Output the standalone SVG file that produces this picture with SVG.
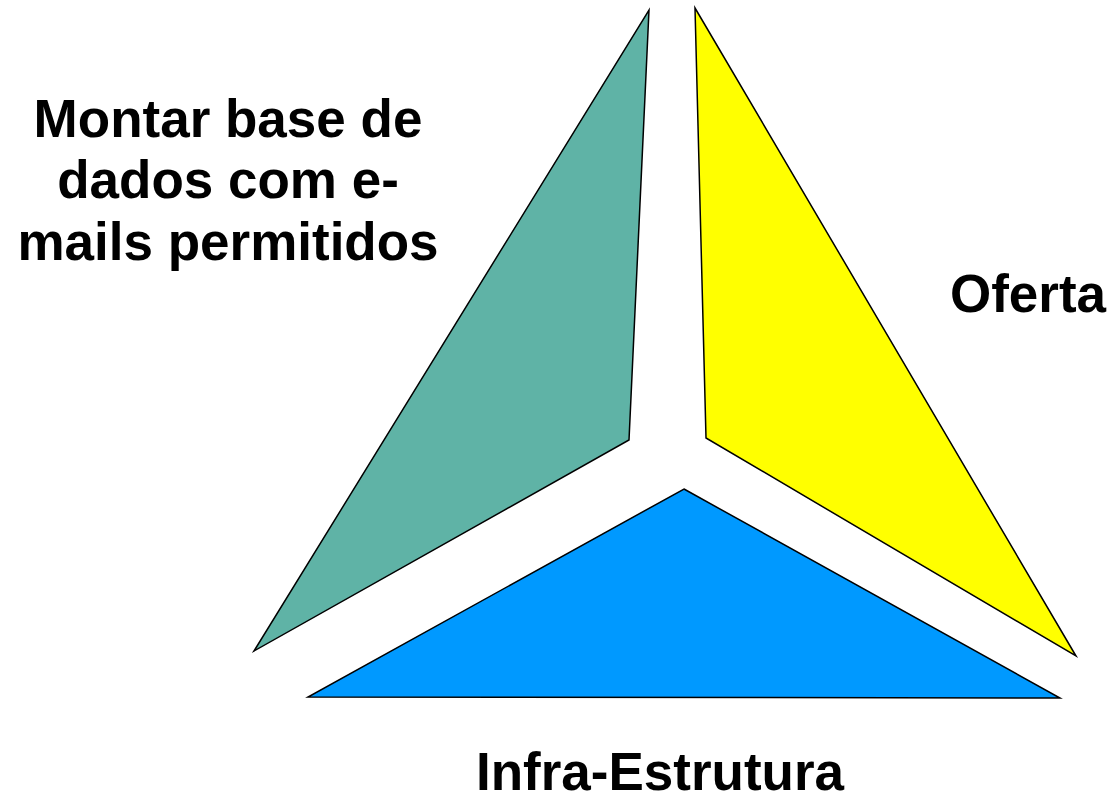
<svg xmlns="http://www.w3.org/2000/svg" width="1112" height="797" viewBox="0 0 1112 797">
<style>
.shape{stroke:#000;stroke-width:1.5;stroke-linejoin:miter}
.lbl{font-family:"Liberation Sans",Arial,sans-serif;font-weight:bold;font-size:53px;fill:#000;text-anchor:middle}
</style>
<rect width="1112" height="797" fill="#fff"/>
<g id="node-montar">
<polygon class="shape" points="649,10 629,440 254,651" fill="#5fb3a6"/>
<text class="lbl"><tspan x="228" y="137">Montar base de</tspan><tspan x="228" y="198">dados com e-</tspan><tspan x="228" y="260">mails permitidos</tspan></text>
</g>
<g id="node-oferta">
<polygon class="shape" points="695,8 706,438 1076,656" fill="#ffff00"/>
<text class="lbl" x="1028" y="312">Oferta</text>
</g>
<g id="node-infra">
<polygon class="shape" points="684,489 1060,698 308,697" fill="#0099ff"/>
<text class="lbl" x="660" y="790">Infra-Estrutura</text>
</g>
<g id="connectors"></g>
</svg>
